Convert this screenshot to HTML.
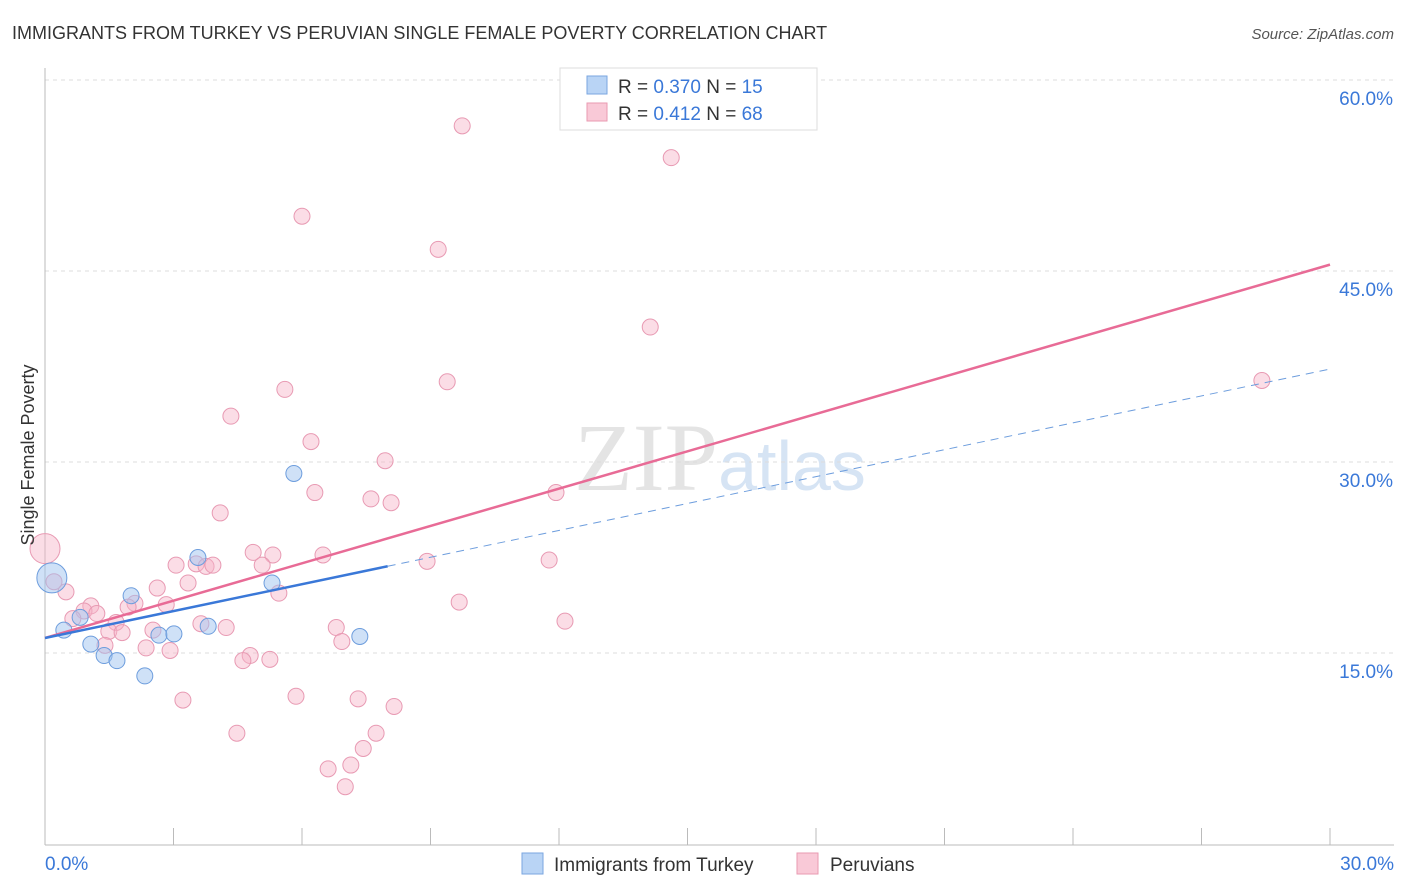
<!DOCTYPE html>
<html><head><meta charset="utf-8"><style>
body{margin:0;background:#fff;font-family:"Liberation Sans",sans-serif}
svg{display:block}
</style></head><body>
<svg width="1406" height="892">
<text x="12" y="39" font-size="18" fill="#333">IMMIGRANTS FROM TURKEY VS PERUVIAN SINGLE FEMALE POVERTY CORRELATION CHART</text>
<text x="1394" y="39" font-size="15" fill="#555" font-style="italic" text-anchor="end">Source: ZipAtlas.com</text>
<text x="720" y="490" font-size="96" fill="#e4e4e4" text-anchor="middle" font-family="Liberation Serif">ZIP<tspan fill="#d6e4f4" font-family="Liberation Sans" font-size="70">atlas</tspan></text>
<g id="grid"></g>
<g id="axes"></g>
<g id="marks"></g>
<text x="34" y="455" font-size="18" fill="#333" text-anchor="middle" transform="rotate(-90 34 455)">Single Female Poverty</text>
<g>
<rect x="560" y="68" width="257" height="62" fill="#fff" stroke="#ddd"/>
<rect x="587" y="76" width="20" height="18" fill="#b9d4f5" stroke="#7aa6e0"/>
<rect x="587" y="103" width="20" height="18" fill="#f9c9d7" stroke="#e99ab2"/>
<text x="618" y="93" font-size="19" fill="#333">R = <tspan fill="#3a78d8">0.370</tspan>   N = <tspan fill="#3a78d8"> 15</tspan></text>
<text x="618" y="120" font-size="19" fill="#333">R =  <tspan fill="#3a78d8">0.412</tspan>   N = <tspan fill="#3a78d8">68</tspan></text>
</g>
<g>
<rect x="522" y="853" width="21" height="21" fill="#b9d4f5" stroke="#7aa6e0"/>
<text x="554" y="871" font-size="19" fill="#333">Immigrants from Turkey</text>
<rect x="797" y="853" width="21" height="21" fill="#f9c9d7" stroke="#e99ab2"/>
<text x="830" y="871" font-size="19" fill="#333">Peruvians</text>
</g>
</svg>
<script>
const yTicks=[15,30,45,60];
const yTickLabels=["15.0%","30.0%","45.0%","60.0%"];
const xTickLabels=["0.0%","30.0%"];
const turkeyX=[0.16,0.44,1.07,1.38,1.68,2.01,2.33,2.66,3.01,3.57,3.81,5.30,5.81,7.35,0.82];
const turkeyY=[20.9,16.8,15.7,14.8,14.4,19.5,13.2,16.4,16.5,22.5,17.1,20.5,29.1,16.3,17.8];
const peruX=[9.74,14.62,6.0,9.18,14.13,28.41,9.39,5.6,4.34,6.21,7.94,6.3,7.61,8.08,11.93,4.09,0,4.86,5.32,6.49,8.92,11.77,3.06,3.53,3.76,3.92,5.07,3.34,2.62,0.21,0.49,5.46,9.67,2.10,2.83,1.07,1.94,0.91,1.21,0.65,12.14,1.66,3.64,4.23,6.8,2.52,1.49,1.80,6.93,1.40,2.36,2.92,4.79,4.62,5.25,5.86,3.22,7.31,8.15,4.48,7.73,7.43,7.14,6.61,7.01];
const peruY=[56.4,53.9,49.3,46.7,40.6,36.4,36.3,35.7,33.6,31.6,30.1,27.6,27.1,26.8,27.6,26.0,23.2,22.9,22.7,22.7,22.2,22.3,21.9,22.0,21.8,21.9,21.9,20.5,20.1,20.6,19.8,19.7,19.0,18.9,18.8,18.7,18.6,18.3,18.1,17.7,17.5,17.4,17.3,17.0,17.0,16.8,16.7,16.6,15.9,15.6,15.4,15.2,14.8,14.4,14.5,11.6,11.3,11.4,10.8,8.7,8.7,7.5,6.2,5.9,4.5];
const peruTrend=[16.18,45.5];
const turkeyTrend=[16.18,37.3];
const turkeySolidEnd=8.0;
const X=v=>45+v*1285/30, Y=v=>844-v*191/15;
const NS="http://www.w3.org/2000/svg";
function mk(t,a,p){const e=document.createElementNS(NS,t);for(const k in a)e.setAttribute(k,a[k]);p.appendChild(e);return e;}
const grid=document.getElementById('grid'),axes=document.getElementById('axes'),marks=document.getElementById('marks');
yTicks.forEach((v,i)=>{
 const l=mk('line',{x1:45,x2:1394,y1:Y(v),y2:Y(v),stroke:'#ddd','stroke-dasharray':'4 4'},grid);
 
 
 const t=mk('text',{x:1393,y:Y(v)+25,'font-size':19,fill:'#3a78d8','text-anchor':'end'},axes);
 t.textContent=yTickLabels[i];
 
 
});
mk('line',{x1:45,x2:45,y1:68,y2:845,stroke:'#bbb'},axes);
mk('line',{x1:45,x2:1394,y1:845,y2:845,stroke:'#bbb'},axes);
for(let i=0;i<=10;i++){mk('line',{x1:X(i*3),x2:X(i*3),y1:828,y2:845,stroke:'#bbb'},axes);}
[[0,45,'start'],[30,1394,'end']].forEach((d,i)=>{const t=mk('text',{x:d[1],y:870,'font-size':19,fill:'#3a78d8','text-anchor':d[2]},axes);t.textContent=xTickLabels[i];

});
peruX.forEach((x,i)=>{const r=(i==16)?15:8;const c=mk('circle',{cx:X(x),cy:Y(peruY[i]),r:r,fill:'rgba(246,180,200,0.45)',stroke:'#e89ab3','stroke-width':1},marks);

});
turkeyX.forEach((x,i)=>{const r=(i==0)?15:8;const c=mk('circle',{cx:X(x),cy:Y(turkeyY[i]),r:r,fill:'rgba(160,195,240,0.5)',stroke:'#6d9ddd','stroke-width':1},marks);

});
const ty=x=>turkeyTrend[0]+(turkeyTrend[1]-turkeyTrend[0])*x/30;
const l1=mk('line',{x1:X(0),y1:Y(peruTrend[0]),x2:X(30),y2:Y(peruTrend[1]),stroke:'#e86b96','stroke-width':2.5},marks);


const l2=mk('line',{x1:X(0),y1:Y(ty(0)),x2:X(turkeySolidEnd),y2:Y(ty(turkeySolidEnd)),stroke:'#3a78d8','stroke-width':2.5},marks);


const l3=mk('line',{x1:X(turkeySolidEnd),y1:Y(ty(turkeySolidEnd)),x2:X(30),y2:Y(ty(30)),stroke:'#6d9ddd','stroke-width':1,'stroke-dasharray':'8 6'},marks);


</script>
</body></html>
